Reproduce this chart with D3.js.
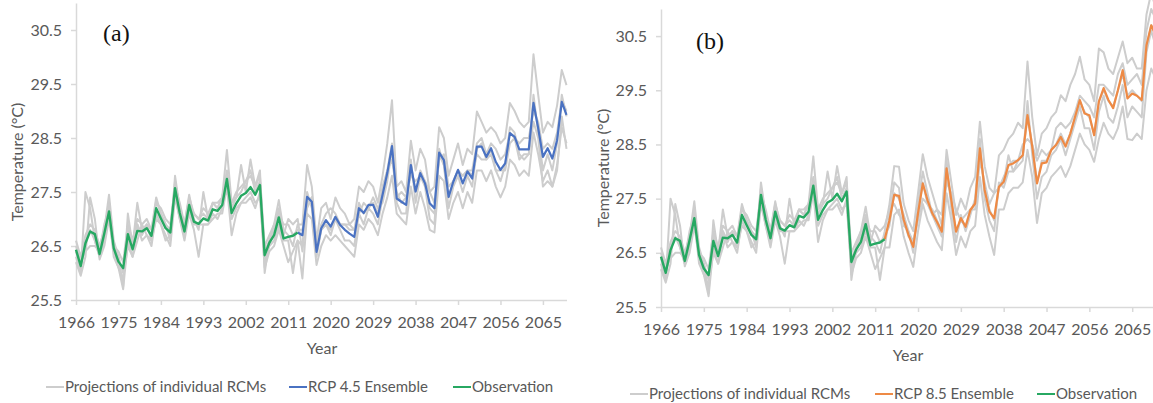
<!DOCTYPE html>
<html>
<head>
<meta charset="utf-8">
<script src="https://cdn.jsdelivr.net/npm/d3@7"></script>
<style>
  html, body { margin: 0; padding: 0; background: #fff; }
  svg { display: block; }
  text { font-family: Lato, "Open Sans", sans-serif; }
</style>
</head>
<body>
<svg id="chart" width="1153" height="403"></svg>
<script>
// ---- data -------------------------------------------------------------
const histStart = 1966;   // first year of observations / historical runs
const futStart = 2014;    // first year of scenario runs
const lastYear = 2070;

const xTickYears = [1966, 1975, 1984, 1993, 2002, 2011, 2020, 2029, 2038, 2047, 2056, 2065];
const yTickValues = [25.5, 26.5, 27.5, 28.5, 29.5, 30.5];

// Observed annual mean temperature, 1966-2013
const observation = [
  26.43, 26.13, 26.55, 26.77, 26.72, 26.35, 26.73, 27.14, 26.46, 26.21,
  26.09, 26.72, 26.44, 26.78, 26.77, 26.83, 26.69, 27.20, 27.01, 26.83,
  26.75, 27.57, 27.11, 26.77, 27.26, 26.95, 26.91, 27.01, 26.97, 27.18,
  27.15, 27.26, 27.74, 27.11, 27.29, 27.43, 27.48, 27.59, 27.45, 27.63,
  26.33, 26.56, 26.70, 27.03, 26.64, 26.67, 26.69, 26.75
];

// Ensemble means, 2013-2070 (2013 joins the observed record)
const ensembleRcp45 = [
  26.75, 26.70, 27.41, 27.32, 26.39, 26.83, 26.98, 26.86, 27.04, 26.89,
  26.80, 26.73, 26.67, 27.20, 27.11, 27.26, 27.26, 27.04, 27.45, 27.85,
  28.35, 27.38, 27.32, 27.26, 28.00, 27.51, 27.85, 27.66, 27.29, 27.20,
  28.23, 28.09, 27.41, 27.69, 27.91, 27.66, 27.88, 27.75, 28.34, 28.34,
  28.15, 28.31, 28.06, 27.91, 28.03, 28.59, 28.52, 28.29, 28.29, 28.29,
  29.15, 28.68, 28.15, 28.31, 28.12, 28.46, 29.17, 28.93
];
const ensembleRcp85 = [
  26.75, 27.10, 27.57, 27.55, 27.11, 26.83, 26.61, 27.23, 27.78, 27.47,
  27.23, 27.07, 26.89, 28.06, 27.47, 26.89, 27.14, 26.98, 27.29, 27.41,
  28.43, 27.66, 27.26, 27.14, 27.72, 27.81, 28.12, 28.15, 28.21, 28.30,
  29.04, 28.46, 27.78, 28.15, 28.17, 28.40, 28.49, 28.64, 28.46, 28.70,
  29.01, 29.32, 29.07, 29.04, 28.67, 29.29, 29.54, 29.32, 29.17, 29.50,
  29.87, 29.35, 29.44, 29.40, 29.32, 30.33, 30.70, 30.50
];

// Individual RCM historical runs, 1966-2013
const rcmHist1 = [26.3, 26.0, 27.5, 27.2, 26.6, 26.3, 26.8, 27.45, 26.6, 26.3, 25.75, 27.1, 26.5, 27.3, 26.8, 26.9, 26.6, 27.35, 27.1, 26.9, 26.6, 27.8, 27.2, 26.9, 27.45, 27.0, 26.8, 27.5, 27.0, 27.3, 27.2, 27.4, 28.28, 27.3, 27.4, 28.0, 27.5, 28.1, 27.6, 27.9, 26.0, 26.6, 26.9, 27.35, 26.8, 26.7, 26.5, 26.9];
const rcmHist2 = [26.2, 25.95, 26.3, 27.4, 27.0, 26.25, 26.5, 27.0, 26.4, 26.1, 25.7, 26.6, 26.3, 26.6, 26.9, 26.7, 26.5, 27.1, 26.9, 26.7, 26.5, 27.4, 27.0, 26.6, 27.1, 26.8, 26.3, 26.9, 26.9, 27.0, 27.1, 27.1, 27.6, 26.7, 27.1, 27.3, 27.3, 27.4, 27.2, 27.5, 26.1, 26.4, 26.5, 26.8, 26.5, 26.2, 26.4, 26.6];
const rcmHist3 = [26.5, 26.2, 26.4, 26.5, 26.5, 26.4, 26.9, 27.2, 26.5, 26.3, 26.0, 26.8, 26.6, 26.9, 26.7, 26.9, 26.8, 27.3, 27.2, 27.0, 26.9, 27.6, 27.3, 26.9, 27.4, 27.1, 27.0, 27.2, 27.1, 27.3, 27.2, 27.4, 27.9, 27.3, 27.5, 27.6, 27.7, 27.8, 27.6, 27.8, 26.5, 26.7, 26.9, 27.1, 26.9, 26.9, 26.7, 26.8];
const rcmHist4 = [26.4, 26.1, 26.6, 26.8, 26.6, 26.3, 26.6, 27.1, 26.3, 26.1, 25.9, 26.5, 26.3, 26.9, 26.6, 26.7, 26.6, 27.0, 26.9, 26.6, 26.7, 27.5, 27.0, 26.7, 27.2, 26.9, 26.9, 26.9, 26.9, 27.1, 27.0, 27.2, 27.7, 27.0, 27.2, 27.3, 27.4, 27.5, 27.3, 27.4, 26.2, 26.5, 26.6, 26.9, 26.6, 26.6, 26.0, 26.6];
const rcmHist5 = [26.6, 26.3, 26.7, 26.9, 26.8, 26.5, 26.8, 27.3, 26.5, 26.4, 26.2, 26.9, 26.6, 27.0, 26.9, 27.0, 26.8, 27.4, 27.1, 26.9, 26.8, 27.7, 27.2, 26.9, 27.3, 27.1, 27.0, 27.1, 27.0, 27.3, 27.3, 27.4, 27.8, 27.2, 27.4, 27.5, 27.7, 27.9, 27.5, 27.7, 26.4, 26.6, 26.8, 27.2, 26.7, 27.0, 26.9, 27.0];

// Individual RCM runs under RCP 4.5, 2014-2070
const rcm45_1 = [26.9, 28.0, 27.6, 26.6, 27.2, 27.3, 27.0, 27.4, 27.2, 27.1, 26.9, 27.0, 27.6, 27.5, 27.7, 27.6, 27.3, 27.8, 28.4, 29.2, 27.6, 27.7, 27.5, 28.45, 27.9, 28.3, 28.1, 27.5, 27.6, 28.7, 28.5, 27.8, 28.1, 28.4, 28.0, 28.3, 28.2, 28.99, 28.8, 28.6, 28.7, 28.6, 28.4, 28.5, 29.15, 29.0, 28.8, 28.7, 28.8, 30.05, 29.3, 28.6, 28.8, 28.7, 29.1, 29.76, 29.48];
const rcm45_2 = [25.9, 27.1, 27.0, 26.15, 26.5, 26.7, 26.6, 26.7, 26.6, 26.5, 26.4, 26.3, 26.9, 26.8, 27.0, 26.9, 26.7, 27.1, 27.4, 27.8, 27.1, 27.0, 26.9, 27.6, 27.1, 27.5, 27.2, 26.8, 26.75, 27.8, 27.7, 27.0, 27.3, 27.5, 27.2, 27.5, 27.3, 27.9, 27.9, 27.7, 27.9, 27.6, 27.4, 27.6, 28.1, 28.0, 27.8, 27.9, 27.8, 28.6, 28.2, 27.7, 27.9, 27.6, 28.0, 28.7, 28.4];
const rcm45_3 = [26.8, 27.3, 27.4, 26.5, 26.9, 27.1, 27.2, 27.1, 26.9, 26.9, 26.9, 26.8, 27.1, 27.3, 27.2, 27.4, 27.2, 27.3, 27.7, 28.3, 27.4, 27.5, 27.4, 27.8, 27.7, 27.8, 27.7, 27.5, 27.3, 28.1, 28.2, 27.6, 27.7, 27.9, 27.8, 27.9, 27.9, 28.4, 28.5, 28.2, 28.4, 28.3, 28.1, 28.2, 28.6, 28.5, 28.4, 28.5, 28.5, 29.0, 28.8, 28.3, 28.4, 28.3, 28.6, 29.2, 29.0];
const rcm45_4 = [26.5, 27.5, 27.2, 26.3, 26.8, 26.9, 26.7, 27.0, 26.8, 26.6, 26.6, 26.5, 27.1, 26.9, 27.2, 27.1, 26.9, 27.4, 27.9, 28.4, 27.3, 27.1, 27.1, 28.1, 27.3, 27.8, 27.6, 27.0, 26.9, 28.3, 28.0, 27.2, 27.6, 27.8, 27.5, 27.8, 27.6, 28.3, 28.4, 28.1, 28.3, 27.9, 27.7, 28.0, 28.7, 28.6, 28.2, 28.1, 28.2, 29.3, 28.6, 27.9, 28.2, 27.9, 28.4, 29.3, 28.9];
const rcm45_5 = [26.4, 27.2, 27.4, 26.4, 26.8, 26.9, 26.8, 27.0, 26.9, 26.9, 26.8, 26.8, 27.3, 27.1, 27.2, 27.3, 27.1, 27.6, 27.9, 28.1, 27.5, 27.3, 27.4, 28.0, 27.5, 27.9, 27.7, 27.2, 27.1, 28.2, 28.0, 27.4, 27.7, 27.9, 27.8, 27.9, 27.8, 28.2, 28.1, 28.1, 28.2, 27.9, 27.9, 27.9, 28.4, 28.5, 28.1, 28.2, 28.2, 28.8, 28.5, 27.6, 27.7, 27.6, 27.9, 28.9, 28.3];

// Individual RCM runs under RCP 8.5, 2014-2070
const rcm85_1 = [27.4, 28.1, 28.09, 27.4, 27.1, 26.9, 27.6, 28.32, 27.9, 27.6, 27.3, 27.2, 28.4, 27.8, 27.2, 27.5, 27.3, 27.7, 27.9, 28.92, 28.1, 27.7, 27.6, 28.3, 28.4, 28.6, 28.7, 28.9, 28.8, 30.03, 29.0, 28.3, 28.7, 28.8, 29.0, 29.1, 29.41, 29.3, 29.6, 29.8, 30.12, 29.7, 29.6, 29.3, 30.27, 30.2, 29.9, 29.8, 30.1, 30.4, 30.0, 30.1, 29.9, 29.9, 30.9, 31.3, 31.0];
const rcm85_2 = [26.6, 27.2, 27.3, 26.8, 26.5, 26.24, 26.9, 27.4, 27.1, 26.9, 26.7, 26.55, 27.6, 27.1, 26.46, 26.8, 26.6, 26.9, 27.0, 27.9, 27.2, 26.8, 26.46, 27.3, 27.3, 27.6, 27.7, 27.7, 27.8, 28.4, 27.9, 27.05, 27.6, 27.7, 27.9, 28.0, 28.1, 27.9, 28.1, 28.4, 28.7, 28.5, 28.4, 28.18, 28.6, 28.9, 28.7, 28.6, 28.8, 29.2, 28.6, 28.58, 28.7, 28.6, 29.5, 29.9, 29.7];
const rcm85_3 = [27.0, 27.6, 27.5, 27.2, 26.9, 26.7, 27.2, 27.8, 27.4, 27.3, 27.1, 26.9, 28.0, 27.5, 26.9, 27.1, 27.0, 27.3, 27.4, 28.4, 27.7, 27.3, 27.1, 27.7, 27.9, 28.1, 28.2, 28.2, 28.3, 29.0, 28.5, 27.8, 28.2, 28.2, 28.4, 28.5, 28.7, 28.5, 28.7, 29.0, 29.3, 29.1, 29.0, 28.7, 29.3, 29.5, 29.3, 29.2, 29.5, 29.8, 29.4, 29.5, 29.4, 29.3, 30.3, 30.7, 30.5];
const rcm85_4 = [27.2, 27.8, 27.7, 27.0, 26.9, 26.5, 27.4, 28.0, 27.6, 27.2, 27.0, 26.8, 28.2, 27.3, 26.7, 27.2, 26.9, 27.2, 27.5, 28.6, 27.5, 27.1, 26.9, 27.8, 27.7, 28.0, 28.0, 28.1, 28.2, 29.3, 28.3, 27.5, 27.9, 28.0, 28.3, 28.4, 28.6, 28.3, 28.6, 28.9, 29.2, 28.8, 28.8, 28.4, 29.1, 29.4, 29.0, 28.9, 29.2, 29.6, 29.0, 29.2, 29.1, 29.0, 30.2, 30.6, 30.3];
const rcm85_5 = [27.3, 27.4, 27.2, 27.1, 26.8, 26.7, 27.1, 27.5, 27.4, 27.2, 27.3, 27.0, 27.8, 27.6, 27.3, 27.1, 27.2, 27.3, 27.3, 28.2, 27.8, 27.4, 27.6, 27.7, 27.8, 28.3, 28.0, 28.2, 28.5, 28.6, 28.5, 28.2, 28.4, 28.3, 28.4, 28.8, 28.9, 28.8, 28.9, 29.1, 29.4, 29.3, 29.2, 29.0, 29.6, 29.6, 29.5, 29.4, 29.8, 30.0, 29.6, 29.7, 29.8, 29.6, 30.6, 31.0, 30.8];

const rcmHist = [rcmHist1, rcmHist2, rcmHist3, rcmHist4, rcmHist5];
const rcm45 = [rcm45_1, rcm45_2, rcm45_3, rcm45_4, rcm45_5];
const rcm85 = [rcm85_1, rcm85_2, rcm85_3, rcm85_4, rcm85_5];

// ---- styling ------------------------------------------------------------
const COL_RCM = "#cdcdcd";
const COL_OBS = "#27a862";
const COL_RCP45 = "#4a72c2";
const COL_RCP85 = "#ee8a45";
const COL_AXIS = "#d9d9d9";
const COL_TEXT = "#595959";
const FONT_SIZE = "16px";

const svg = d3.select("#chart");

// year/value pairs for a run starting at a given year
const toPoints = (vals, start) => vals.map((v, i) => ({ year: start + i, v }));

function drawPanel(cfg) {
  const x = d3.scaleLinear().domain([histStart, lastYear]).range([cfg.x0, cfg.x1]);
  const y = d3.scaleLinear().domain([25.5, 31.0]).range([cfg.yBottom, cfg.yTop]);
  const g = svg.append("g");

  // axes
  const xAxis = d3.axisBottom(x).tickValues(xTickYears).tickFormat(d3.format("d"))
    .tickSize(5).tickSizeOuter(0).tickPadding(12);
  const yAxis = d3.axisLeft(y).tickValues(yTickValues).tickFormat(d3.format(".1f"))
    .tickSize(5).tickSizeOuter(0).tickPadding(9);

  const gx = g.append("g").attr("transform", `translate(0,${cfg.yBottom})`).call(xAxis);
  const gy = g.append("g").attr("transform", `translate(${cfg.x0},0)`).call(yAxis);
  [gx, gy].forEach(a => {
    a.select(".domain").attr("stroke", COL_AXIS).attr("stroke-width", 1.5);
    a.selectAll(".tick line").attr("stroke", COL_AXIS).attr("stroke-width", 1.5);
    a.selectAll(".tick text").attr("fill", COL_TEXT).style("font-size", FONT_SIZE)
      .style("font-family", "Lato, 'Open Sans', sans-serif");
  });

  const line = d3.line().x(d => x(d.year)).y(d => y(d.v));

  // individual RCM runs: historical + scenario joined
  cfg.rcms.forEach((fut, k) => {
    const pts = toPoints(rcmHist[k], histStart).concat(toPoints(fut, futStart));
    g.append("path").datum(pts).attr("d", line)
      .attr("fill", "none").attr("stroke", COL_RCM).attr("stroke-width", 2)
      .attr("stroke-linejoin", "round");
  });

  // ensemble mean
  g.append("path").datum(toPoints(cfg.ensemble, futStart - 1)).attr("d", line)
    .attr("fill", "none").attr("stroke", cfg.ensColor).attr("stroke-width", 2.2)
    .attr("stroke-linejoin", "round");

  // observations
  g.append("path").datum(toPoints(observation, histStart)).attr("d", line)
    .attr("fill", "none").attr("stroke", COL_OBS).attr("stroke-width", 2.4)
    .attr("stroke-linejoin", "round");

  // axis titles
  g.append("text")
    .attr("transform", `translate(${cfg.yTitleX},${cfg.yTitleY}) rotate(-90)`)
    .attr("text-anchor", "middle").attr("fill", COL_TEXT).style("font-size", FONT_SIZE)
    .text("Temperature (°C)");
  g.append("text").attr("x", cfg.xTitleX).attr("y", cfg.xTitleY)
    .attr("text-anchor", "middle").attr("fill", COL_TEXT).style("font-size", FONT_SIZE)
    .text("Year");

  // panel tag
  g.append("text").attr("x", cfg.tagX).attr("y", cfg.tagY)
    .style("font-family", "'Liberation Serif', 'DejaVu Serif', serif")
    .style("font-size", "24px").attr("fill", "#111").text(cfg.tag);

  // legend
  const items = [
    { label: "Projections of individual RCMs", color: COL_RCM, x: cfg.legX[0] },
    { label: cfg.ensLabel, color: cfg.ensColor, x: cfg.legX[1] },
    { label: "Observation", color: COL_OBS, x: cfg.legX[2] }
  ];
  const leg = g.append("g").attr("transform", `translate(0,${cfg.legY})`);
  items.forEach(it => {
    leg.append("line").attr("x1", it.x).attr("x2", it.x + 18).attr("y1", 0).attr("y2", 0)
      .attr("stroke", it.color).attr("stroke-width", 2);
    leg.append("text").attr("x", it.x + 19).attr("y", 0).attr("dy", "0.35em")
      .attr("fill", COL_TEXT).style("font-size", "15px").text(it.label);
  });
}

drawPanel({
  x0: 76, x1: 566.5, yBottom: 300, yTop: 3,
  rcms: rcm45, ensemble: ensembleRcp45, ensColor: COL_RCP45, ensLabel: "RCP 4.5 Ensemble",
  yTitleX: 23, yTitleY: 162, xTitleX: 322, xTitleY: 354,
  tag: "(a)", tagX: 103, tagY: 41,
  legX: [46, 289, 453], legY: 387
});

drawPanel({
  x0: 661, x1: 1156, yBottom: 307, yTop: 9,
  rcms: rcm85, ensemble: ensembleRcp85, ensColor: COL_RCP85, ensLabel: "RCP 8.5 Ensemble",
  yTitleX: 609, yTitleY: 168, xTitleX: 908, xTitleY: 361,
  tag: "(b)", tagX: 696, tagY: 49,
  legX: [630, 875, 1037], legY: 394
});
</script>
</body>
</html>
